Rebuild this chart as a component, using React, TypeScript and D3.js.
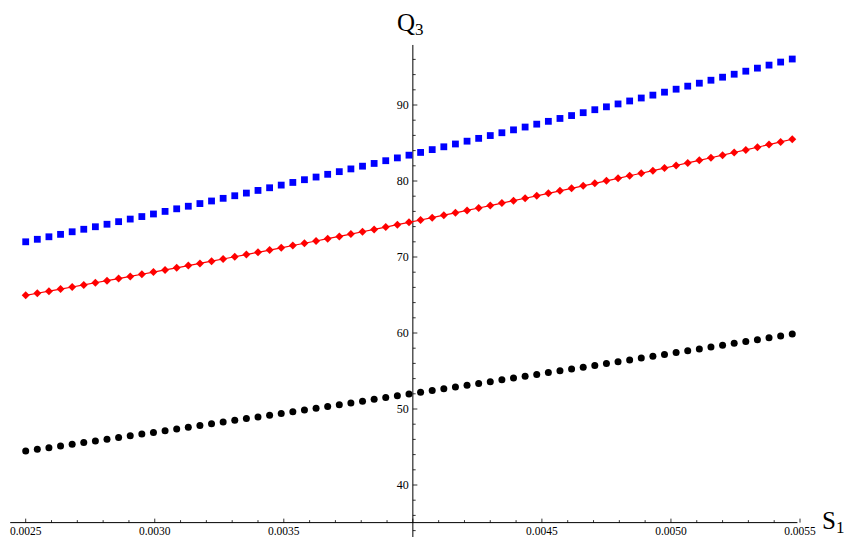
import React from "react";
import * as d3 from "d3";

const xValues = [0.0025, 0.002545, 0.00259, 0.002635, 0.00268, 0.002725, 0.00277, 0.002815, 0.00286, 0.002905, 0.00295, 0.002995, 0.00304, 0.003085, 0.00313, 0.003175, 0.00322, 0.003265, 0.00331, 0.003355, 0.0034, 0.003445, 0.00349, 0.003535, 0.00358, 0.003625, 0.00367, 0.003715, 0.00376, 0.003805, 0.00385, 0.003895, 0.00394, 0.003985, 0.00403, 0.004075, 0.00412, 0.004165, 0.00421, 0.004255, 0.0043, 0.004345, 0.00439, 0.004435, 0.00448, 0.004525, 0.00457, 0.004615, 0.00466, 0.004705, 0.00475, 0.004795, 0.00484, 0.004885, 0.00493, 0.004975, 0.00502, 0.005065, 0.00511, 0.005155, 0.0052, 0.005245, 0.00529, 0.005335, 0.00538, 0.005425, 0.00547];

const blueValues = [72.0, 72.33, 72.66, 72.98, 73.32, 73.65, 73.98, 74.31, 74.65, 74.99, 75.32, 75.66, 76.0, 76.34, 76.68, 77.03, 77.37, 77.72, 78.06, 78.41, 78.76, 79.11, 79.46, 79.81, 80.17, 80.52, 80.88, 81.23, 81.59, 81.95, 82.31, 82.67, 83.04, 83.4, 83.76, 84.13, 84.5, 84.87, 85.24, 85.61, 85.98, 86.35, 86.73, 87.1, 87.48, 87.85, 88.23, 88.61, 88.99, 89.38, 89.76, 90.14, 90.53, 90.92, 91.3, 91.69, 92.08, 92.48, 92.87, 93.26, 93.66, 94.05, 94.45, 94.85, 95.25, 95.65, 96.05];

const redValues = [64.96, 65.23, 65.5, 65.78, 66.05, 66.33, 66.61, 66.88, 67.16, 67.45, 67.73, 68.01, 68.3, 68.58, 68.87, 69.16, 69.45, 69.74, 70.03, 70.32, 70.62, 70.91, 71.21, 71.51, 71.81, 72.11, 72.41, 72.71, 73.02, 73.32, 73.63, 73.94, 74.25, 74.56, 74.87, 75.18, 75.5, 75.81, 76.13, 76.45, 76.77, 77.09, 77.41, 77.73, 78.05, 78.38, 78.71, 79.03, 79.36, 79.69, 80.02, 80.35, 80.69, 81.02, 81.36, 81.7, 82.04, 82.38, 82.72, 83.06, 83.4, 83.75, 84.09, 84.44, 84.79, 85.14, 85.49];

const blackValues = [44.47, 44.69, 44.91, 45.13, 45.36, 45.58, 45.8, 46.03, 46.25, 46.47, 46.7, 46.92, 47.15, 47.37, 47.6, 47.83, 48.05, 48.28, 48.51, 48.74, 48.96, 49.19, 49.42, 49.65, 49.88, 50.11, 50.34, 50.57, 50.8, 51.03, 51.27, 51.5, 51.73, 51.96, 52.2, 52.43, 52.66, 52.9, 53.13, 53.37, 53.6, 53.84, 54.08, 54.31, 54.55, 54.79, 55.03, 55.26, 55.5, 55.74, 55.98, 56.22, 56.46, 56.7, 56.94, 57.18, 57.42, 57.66, 57.91, 58.15, 58.39, 58.64, 58.88, 59.12, 59.37, 59.61, 59.86];

const xTickLabels = [0.0025, 0.003, 0.0035, 0.0045, 0.005, 0.0055];
const yTickLabels = [40, 50, 60, 70, 80, 90];

const W = 846;
const H = 537;
const FONT = "'Liberation Serif', 'DejaVu Serif', serif";

export default function App() {
  const x = d3.scaleLinear().domain([0.0025, 0.0055]).range([25.7, 800]);
  const y = d3.scaleLinear().domain([40, 90]).range([485, 105]);

  const originX = 0.004;
  const originY = 35.05;
  const ax = x(originX);
  const ay = y(originY);

  const xMinor = d3.range(0, 31).map((i) => 0.0025 + i * 0.0001);
  const yMinor = d3.range(34, 97, 2);

  const redLine = d3
    .line<number>()
    .x((_, i) => x(xValues[i]))
    .y((v) => y(v))(redValues) as string;

  const sq = 6.8;
  const dm = 4.0;

  return (
    <svg
      width={W}
      height={H}
      style={{ position: "absolute", left: 0, top: 0, background: "#fff" }}
    >
      <rect x={0} y={0} width={W} height={H} fill="#fff" />
      {/* x axis */}
      <line x1={x(0.00244)} x2={x(0.00549)} y1={ay} y2={ay} stroke="#000" strokeWidth={1} />
      {xMinor.map((v, i) => {
        const major = i % 5 === 0;
        return (
          <line
            key={"xt" + i}
            x1={x(v)}
            x2={x(v)}
            y1={ay}
            y2={ay - (major ? 4 : 2.5)}
            stroke="#000"
            strokeWidth={0.8}
          />
        );
      })}
      {xTickLabels.map((v) => (
        <text
          key={"xl" + v}
          x={x(v)}
          y={535}
          textAnchor="middle"
          fontFamily={FONT}
          fontSize={11.5}
          fill="#000"
        >
          {d3.format(".4f")(v)}
        </text>
      ))}
      {/* y axis */}
      <line x1={ax} x2={ax} y1={y(97.9)} y2={H} stroke="#000" strokeWidth={1} />
      {yMinor.map((v) => {
        const major = v % 10 === 0;
        return (
          <line
            key={"yt" + v}
            x1={ax}
            x2={ax + (major ? 4.5 : 2.8)}
            y1={y(v)}
            y2={y(v)}
            stroke="#000"
            strokeWidth={0.8}
          />
        );
      })}
      {yTickLabels.map((v) => (
        <text
          key={"yl" + v}
          x={ax - 4}
          y={y(v)}
          dy="0.35em"
          textAnchor="end"
          fontFamily={FONT}
          fontSize={12}
          fill="#000"
        >
          {v}
        </text>
      ))}
      {/* axis titles */}
      <text x={397} y={31} fontFamily={FONT} fontSize={25} fill="#000">
        Q
        <tspan fontSize={17} dy={4}>3</tspan>
      </text>
      <text x={822} y={529} fontFamily={FONT} fontSize={25} fill="#000">
        S
        <tspan fontSize={17} dy={4}>1</tspan>
      </text>
      {/* blue squares */}
      {blueValues.map((v, i) => (
        <rect
          key={"b" + i}
          x={x(xValues[i]) - sq / 2}
          y={y(v) - sq / 2}
          width={sq}
          height={sq}
          fill="#0000ff"
        />
      ))}
      {/* red line with diamonds */}
      <path d={redLine} fill="none" stroke="#ff0000" strokeWidth={1.2} />
      {redValues.map((v, i) => {
        const cx = x(xValues[i]);
        const cy = y(v);
        return (
          <path
            key={"r" + i}
            d={`M${cx},${cy - dm}L${cx + dm},${cy}L${cx},${cy + dm}L${cx - dm},${cy}Z`}
            fill="#ff0000"
          />
        );
      })}
      {/* black circles */}
      {blackValues.map((v, i) => (
        <circle key={"k" + i} cx={x(xValues[i])} cy={y(v)} r={3.5} fill="#000" />
      ))}
    </svg>
  );
}
